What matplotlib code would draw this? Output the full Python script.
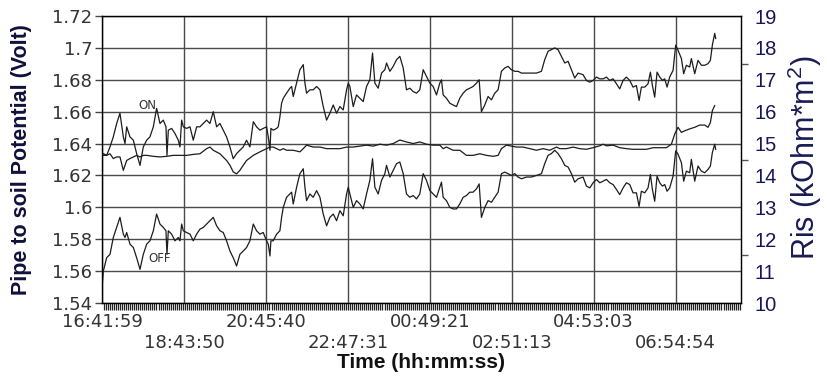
import numpy as np
import matplotlib
matplotlib.use('Agg')
import matplotlib.pyplot as plt
from matplotlib.ticker import MultipleLocator, FixedLocator

plt.rcParams['mathtext.fontset'] = 'custom'
plt.rcParams['mathtext.rm'] = 'Liberation Sans'

# time axis labels (clock time), first one is the start of the record
time_labels = ['16:41:59', '18:43:50', '20:45:40', '22:47:31',
               '00:49:21', '02:51:13', '04:53:03', '06:54:54']

# elapsed minutes since 16:41:59 for ON / OFF potentials
t_pot = [0.5, 2.0, 6.9, 11.9, 16.8, 21.8, 26.7, 31.7, 34.2, 36.7, 41.6, 46.6, 51.5, 56.5,
         61.4, 66.4, 71.3, 76.3, 81.2, 86.2, 91.1, 95.1, 96.6, 98.6, 103.5, 108.5,
         113.4, 115.9, 118.4, 120.9, 125.8, 130.8, 135.7, 140.7, 145.6, 150.6, 155.5,
         160.5, 165.4, 170.4, 175.3, 180.3, 185.2, 190.2, 195.1, 200.1, 205.0, 210.0,
         214.9, 219.9, 224.9, 229.8, 234.8, 239.7,
         244.7, 247.2, 249.7, 251.1, 254.6, 259.6, 262.0, 264.5, 267.0, 269.5, 274.4,
         279.4, 281.9, 284.3, 289.3, 294.2, 299.2, 301.7, 304.1, 309.1, 314.0, 319.0,
         324.0, 328.9, 333.9, 338.8, 343.8, 348.7, 353.7, 358.6, 363.6, 366.1, 368.5,
         373.5, 378.4, 383.4, 388.3, 393.3, 398.2, 402.2, 405.7, 410.6, 415.6, 420.5,
         423.0, 428.0, 432.9, 437.9, 442.8, 447.8, 452.7, 457.7, 462.6, 467.6, 472.5,
         477.5,
         482.4, 487.4, 492.3, 497.3, 502.2, 504.7, 507.2, 512.1, 517.1, 522.0, 527.0,
         531.9, 536.9, 541.8, 546.8, 551.7, 556.7, 560.7, 564.1, 569.1, 574.0, 579.0,
         583.9, 588.9, 593.8, 598.8, 603.7, 608.7, 613.7, 618.6, 623.6, 631.0, 638.4,
         645.9, 653.3, 658.2, 663.2, 668.1, 673.1, 678.0, 683.0, 688.0, 692.9, 697.9,
         702.8, 707.8, 715.2,
         720.2, 725.2, 730.1, 735.1, 740.0, 745.0, 749.9, 754.9, 759.8, 764.8, 769.7,
         774.7, 779.6, 784.6, 789.5, 794.5, 798.5, 801.9, 806.9, 811.8, 815.3, 818.3,
         821.7, 825.2, 829.2, 833.1, 836.6, 840.1, 844.0, 849.0, 852.9, 856.4, 861.4,
         864.8, 868.8, 873.7, 876.2, 881.2, 886.1, 891.1, 896.0, 901.0, 904.5, 907.4,
         910.9, 912.4]

on_volt = [1.6320, 1.6337, 1.6326, 1.6379, 1.6442, 1.6526, 1.6590, 1.6442, 1.6400, 1.6505,
           1.6442, 1.6421, 1.6337, 1.6263, 1.6379, 1.6421, 1.6442, 1.6505, 1.6621, 1.6526,
           1.6547, 1.6505, 1.6326, 1.6484, 1.6495, 1.6463, 1.6421, 1.6379, 1.6547, 1.6505,
           1.6495, 1.6505, 1.6421, 1.6505, 1.6505, 1.6526, 1.6547, 1.6526, 1.6600, 1.6505,
           1.6526, 1.6484, 1.6442, 1.6379, 1.6305, 1.6337, 1.6358, 1.6379, 1.6421, 1.6379,
           1.6537, 1.6505, 1.6484, 1.6495,
           1.6505, 1.6442, 1.6358, 1.6495, 1.6484, 1.6495, 1.6505, 1.6568, 1.6653, 1.6684,
           1.6716, 1.6747, 1.6758, 1.6695, 1.6779, 1.6863, 1.6895, 1.6779, 1.6716, 1.6737,
           1.6737, 1.6758, 1.6737, 1.6632, 1.6547, 1.6590, 1.6642, 1.6590, 1.6632, 1.6611,
           1.6737, 1.6779, 1.6758, 1.6632, 1.6705, 1.6684, 1.6663, 1.6758, 1.6800, 1.6968,
           1.6779, 1.6747, 1.6842, 1.6863, 1.6905, 1.6853, 1.6884, 1.6926, 1.6947, 1.6874,
           1.6737, 1.6747, 1.6726, 1.6716, 1.6737, 1.6863,
           1.6821, 1.6779, 1.6758, 1.6705, 1.6779, 1.6800, 1.6705, 1.6684, 1.6653, 1.6642,
           1.6632, 1.6684, 1.6716, 1.6737, 1.6747, 1.6758, 1.6779, 1.6800, 1.6600, 1.6642,
           1.6695, 1.6674, 1.6716, 1.6737, 1.6853, 1.6874, 1.6884, 1.6863, 1.6853, 1.6853,
           1.6842, 1.6842, 1.6842, 1.6842, 1.6853, 1.6926, 1.6979, 1.6989, 1.7000, 1.6989,
           1.6947, 1.6905, 1.6916, 1.6863, 1.6811, 1.6842, 1.6832,
           1.6796, 1.6785, 1.6796, 1.6817, 1.6806, 1.6806, 1.6817, 1.6796, 1.6806, 1.6775,
           1.6743, 1.6796, 1.6817, 1.6796, 1.6754, 1.6764,
           1.6670, 1.6754, 1.6754, 1.6775, 1.6848, 1.6764, 1.6691, 1.6848, 1.6817, 1.6796,
           1.6806, 1.6754, 1.6817, 1.6859, 1.7017, 1.6985, 1.6933, 1.6838, 1.6891, 1.6880,
           1.6933, 1.6838, 1.6922, 1.6891, 1.6891, 1.6901, 1.6922, 1.7017, 1.7091, 1.7059]

off_volt = [1.5520, 1.5600, 1.5684, 1.5705, 1.5811, 1.5874, 1.5937, 1.5832, 1.5811, 1.5842,
            1.5769, 1.5748, 1.5684, 1.5611, 1.5705, 1.5769, 1.5790, 1.5853, 1.5958, 1.5895,
            1.5874, 1.5853, 1.5705, 1.5853, 1.5832, 1.5790, 1.5811, 1.5790, 1.5895, 1.5853,
            1.5842, 1.5832, 1.5790, 1.5832, 1.5863, 1.5874, 1.5895, 1.5916, 1.5937, 1.5884,
            1.5853, 1.5842, 1.5790, 1.5726, 1.5684, 1.5632, 1.5705, 1.5726, 1.5748, 1.5790,
            1.5895, 1.5853, 1.5832, 1.5842,
            1.5790, 1.5769, 1.5695, 1.5790, 1.5790, 1.5832, 1.5842, 1.5853, 1.5937, 1.6000,
            1.6063, 1.6084, 1.6095, 1.6021, 1.6126, 1.6211, 1.6242, 1.6126, 1.6042, 1.6084,
            1.6063, 1.6105, 1.6063, 1.5958, 1.5884, 1.5937, 1.5958, 1.5916, 1.5979, 1.5947,
            1.6084, 1.6126, 1.6084, 1.6000, 1.6042, 1.6021, 1.5990, 1.6084, 1.6169, 1.6305,
            1.6126, 1.6084, 1.6169, 1.6211, 1.6263, 1.6190, 1.6232, 1.6274, 1.6284, 1.6211,
            1.6084, 1.6063, 1.6074, 1.6053, 1.6084, 1.6211,
            1.6169, 1.6105, 1.6084, 1.6063, 1.6126, 1.6158, 1.6063, 1.6042, 1.6000, 1.5990,
            1.5990, 1.6021, 1.6063, 1.6074, 1.6095, 1.6095, 1.6116, 1.6147, 1.5937, 1.6000,
            1.6042, 1.6032, 1.6063, 1.6095, 1.6211, 1.6221, 1.6211, 1.6200, 1.6211, 1.6190,
            1.6179, 1.6190, 1.6190, 1.6200, 1.6211, 1.6274, 1.6326, 1.6337, 1.6358, 1.6337,
            1.6305, 1.6263, 1.6253, 1.6211, 1.6158, 1.6179, 1.6190,
            1.6133, 1.6122, 1.6154, 1.6175, 1.6154, 1.6164, 1.6175, 1.6154, 1.6143, 1.6112,
            1.6080, 1.6122, 1.6154, 1.6143, 1.6091, 1.6091,
            1.6006, 1.6101, 1.6091, 1.6122, 1.6206, 1.6112, 1.6038, 1.6196, 1.6154, 1.6133,
            1.6143, 1.6101, 1.6122, 1.6196, 1.6354, 1.6333, 1.6280, 1.6164, 1.6227, 1.6217,
            1.6301, 1.6164, 1.6259, 1.6227, 1.6217, 1.6238, 1.6259, 1.6343, 1.6396, 1.6364]

# Ris (kOhm*m2), right axis
t_ris = [2.0, 6.9, 11.9, 16.8, 21.8, 26.7, 31.7, 36.7, 41.6, 46.6, 51.5, 56.5, 61.4, 66.4,
         76.3, 86.2, 96.1, 106.0, 115.9, 125.8, 135.7, 145.6, 155.5,
         160.5, 165.4, 175.3, 185.2, 190.2, 195.1, 200.1, 205.0, 210.0, 214.9, 224.9,
         234.8, 239.7,
         244.7, 249.7, 254.6, 259.6, 264.5, 269.5, 274.4, 284.3, 294.2, 299.2, 304.1,
         314.0, 324.0, 333.9, 343.8, 353.7, 363.6, 373.5, 383.4, 393.3, 403.2, 413.1,
         423.0, 432.9, 442.8, 452.7, 462.6, 472.5,
         482.4, 492.3, 502.2, 507.2, 512.1, 522.0, 531.9, 541.8, 551.7, 561.7, 571.6,
         581.5, 588.9, 593.8, 601.3, 608.7, 616.1, 626.0, 636.0, 645.9, 655.8, 665.7,
         675.6, 680.5, 690.4, 700.4, 710.3,
         720.2, 730.1, 740.0, 745.0, 749.9, 759.8, 769.7, 779.6, 789.5, 799.5, 809.4,
         819.3, 829.2, 839.1, 846.5, 851.5, 856.4, 861.4, 866.3, 873.7, 881.2, 888.6,
         896.0, 901.0, 904.5, 907.4, 910.9]

ris = [14.63, 14.63, 14.68, 14.53, 14.58, 14.58, 14.16, 14.47, 14.53, 14.58, 14.63, 14.58,
       14.63, 14.63,
       14.60, 14.58, 14.60, 14.63, 14.63, 14.63, 14.66, 14.68, 14.84,
       14.89, 14.79, 14.68, 14.47, 14.32, 14.11, 14.05, 14.16, 14.32, 14.47, 14.63,
       14.74, 14.79,
       14.84, 14.89, 14.89, 14.84, 14.79, 14.84, 14.79, 14.79, 14.74, 14.84, 14.95,
       14.89, 14.89, 14.84, 14.84, 14.84, 14.89, 14.89, 14.92, 14.95, 14.92, 14.98,
       14.95, 15.00, 15.11, 15.05, 15.00, 15.05,
       14.98, 14.95, 14.95, 14.84, 14.89, 14.79, 14.79, 14.63, 14.63, 14.68, 14.63,
       14.60, 14.63, 14.84, 14.95, 14.92, 14.89, 14.89, 14.84, 14.79, 14.84, 14.79,
       14.89, 14.84, 14.84, 14.89, 14.84,
       14.82, 14.87, 14.93, 14.98, 14.93, 14.95, 14.87, 14.84, 14.82, 14.82, 14.82,
       14.87, 14.87, 14.87, 14.98, 15.30, 15.51, 15.35, 15.40, 15.46, 15.51, 15.58,
       15.58, 15.51, 15.66, 16.03, 16.19]


def elapsed_min(label, start):
    h, m, s = [int(v) for v in label.split(':')]
    h0, m0, s0 = [int(v) for v in start.split(':')]
    d = (h * 3600 + m * 60 + s) - (h0 * 3600 + m0 * 60 + s0)
    return (d % 86400) / 60.0


tick_pos = [elapsed_min(l, time_labels[0]) for l in time_labels]
tick_txt = [l if i % 2 == 0 else '\n' + l for i, l in enumerate(time_labels)]

fig = plt.figure(figsize=(8.28, 3.76), dpi=100)
ax = fig.add_axes([102 / 828, 1 - 303 / 376, 639 / 828, 287 / 376])

ax.set_xlim(0, 950)
ax.set_ylim(1.54, 1.72)
yt = np.round(np.arange(1.54, 1.7201, 0.02), 2)
ax.set_yticks(yt)
ax.set_yticklabels(['%g' % v for v in yt], fontsize=13, color='#333333',
                   family='DejaVu Sans')
ax.tick_params(axis='y', length=5, width=1, color='#444444', pad=2)

ax.xaxis.set_major_locator(FixedLocator(tick_pos))
ax.set_xticklabels(tick_txt, fontsize=13, color='#333333', family='DejaVu Sans')
ax.xaxis.set_minor_locator(MultipleLocator(3))
ax.tick_params(axis='x', which='major', length=0, pad=7)
ax.tick_params(axis='x', which='minor', length=5, width=0.9, color='#222222',
               direction='out')

ax.grid(True, which='major', color='#4a4a4a', lw=1.0)
for sp in ax.spines.values():
    sp.set_color('#222222')
    sp.set_linewidth(1.0)

ax.plot(t_pot, on_volt, color='#1c1c1c', lw=0.9)
ax.plot(t_pot, off_volt, color='#1c1c1c', lw=0.9)
ax.text(67, 1.664, 'ON', fontsize=8.5, color='#333333', ha='center', va='center',
        family='DejaVu Sans')
ax.text(86, 1.568, 'OFF', fontsize=8.5, color='#333333', ha='center', va='center',
        family='DejaVu Sans')

ax2 = ax.twinx()
ax2.set_ylim(10, 19)
ax2.set_yticks(range(10, 20))
ax2.set_yticklabels([str(v) for v in range(10, 20)], fontsize=14.5, color='#15155a',
                    family='Liberation Sans')
ax2.yaxis.set_minor_locator(FixedLocator(np.arange(10, 19.01, 1.5)))
ax2.tick_params(axis='y', which='major', length=0, pad=10)
ax2.tick_params(axis='y', which='minor', length=5, width=1, color='#555555')
ax2.plot(t_ris, ris, color='#1c1c1c', lw=0.9)

fig.text(0.026, 0.576, 'Pipe to soil Potential (Volt)', rotation=90, fontsize=15.5,
         fontweight='bold', color='#10103a', ha='center', va='center',
         family='Liberation Sans')
fig.text(0.972, 0.58, 'Ris (kOhm*m$^2$)', rotation=90, fontsize=22,
         color='#1a1a55', ha='center', va='center', family='Liberation Sans')
fig.text(421 / 828, 1 - 362 / 376, 'Time (hh:mm:ss)', fontsize=15, fontweight='bold',
         color='#111111', ha='center', va='center', family='Liberation Sans')

fig.savefig('out.png', dpi=100)
